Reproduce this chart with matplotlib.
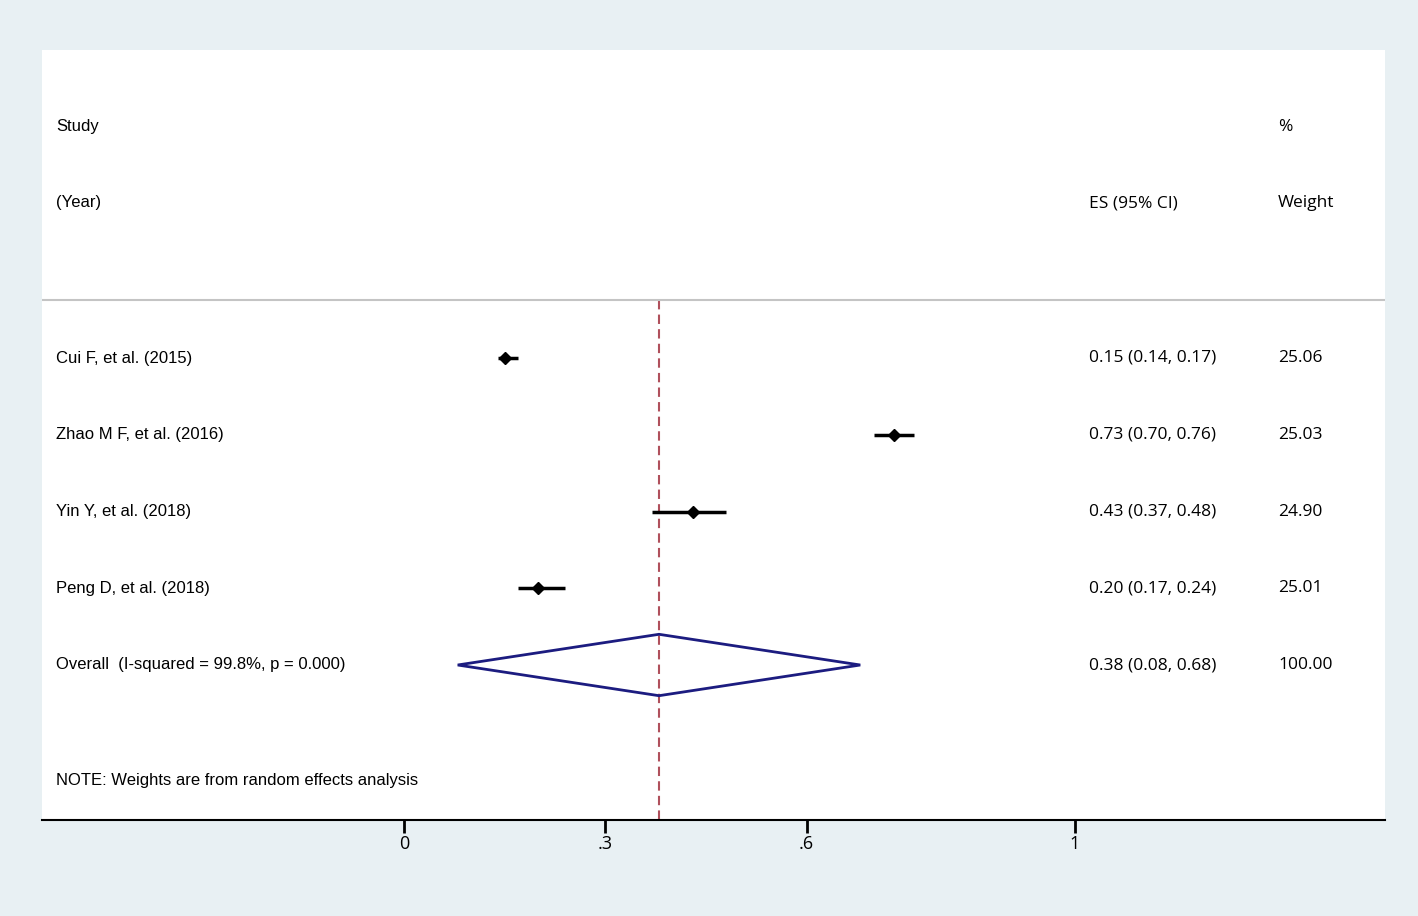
import numpy as np
import matplotlib.pyplot as plt
from matplotlib.patches import Polygon
from matplotlib.transforms import blended_transform_factory

# study data
studies = ["Cui F, et al. (2015)", "Zhao M F, et al. (2016)",
           "Yin Y, et al. (2018)", "Peng D, et al. (2018)"]
es = [0.15, 0.73, 0.43, 0.20]
ci_lo = [0.14, 0.70, 0.37, 0.17]
ci_hi = [0.17, 0.76, 0.48, 0.24]
weights = ["25.06", "25.03", "24.90", "25.01"]

overall_label = "Overall  (I-squared = 99.8%, p = 0.000)"
overall_es = 0.38
overall_lo = 0.08
overall_hi = 0.68
overall_weight = "100.00"

xticks = [0, 0.3, 0.6, 1]
xtick_labels = ["0", ".3", ".6", "1"]

W, H = 1418, 916
BG = "#e8f0f3"
LABEL_FONT = ["Liberation Sans", "DejaVu Sans"]
NUM_FONT = ["Open Sans", "DejaVu Sans"]
NUM_SIZE = 12.5

fig = plt.figure(figsize=(W / 100, H / 100), dpi=100, facecolor=BG)
# white panel in pixels: x 42..1385, y 50..820
ax = fig.add_axes([42 / W, 1 - 820 / H, (1385 - 42) / W, (820 - 50) / H])
ax.set_facecolor("white")

# x scale: 0 -> px 404, 1 -> px 1075
x0, x1 = 404, 1075
ax.set_xlim((42 - x0) / (x1 - x0), (1385 - x0) / (x1 - x0))
# y in row units: row 0 at px 358, step 76.75 px
ry0, rstep = 358, 76.75
ax.set_ylim((820 - ry0) / rstep, (50 - ry0) / rstep)

for s in ["top", "left", "right"]:
    ax.spines[s].set_visible(False)
ax.spines["bottom"].set_linewidth(1.5)
ax.set_yticks([])
ax.set_xticks(xticks)
ax.set_xticklabels(xtick_labels, fontfamily=NUM_FONT, fontsize=13)
ax.tick_params(axis="x", length=9, width=2, pad=2)

rows = np.arange(len(studies))

# header
hdr_line = (300 - ry0) / rstep
ax.axhline(hdr_line, color="#c4c4c4", lw=1.5)
tx_study, tx_es, tx_w = 14 / 1343, 1047 / 1343, 1236 / 1343
blend = blended_transform_factory(ax.transAxes, ax.transData)


def put(x, y, s, fam, size):
    ax.text(x, y, s, transform=blend, va="center", fontfamily=fam, fontsize=size)


put(tx_study, (127 - ry0) / rstep, "Study", LABEL_FONT, 12)
put(tx_study, (203 - ry0) / rstep, "(Year)", LABEL_FONT, 12)
put(tx_es, (203 - ry0) / rstep, "ES (95% CI)", NUM_FONT, NUM_SIZE)
put(tx_w, (127 - ry0) / rstep, "%", NUM_FONT, NUM_SIZE)
put(tx_w, (203 - ry0) / rstep, "Weight", NUM_FONT, NUM_SIZE)

# overall estimate line
ax.plot([overall_es, overall_es], [hdr_line, (820 - ry0) / rstep],
        color="#b0505c", lw=1.5, ls=(0, (4.5, 2.5)), zorder=1)

# study estimates
xerr = [np.array(es) - np.array(ci_lo), np.array(ci_hi) - np.array(es)]
ax.errorbar(es, rows, xerr=xerr, fmt="D", color="black", ms=6,
            elinewidth=2.5, capsize=0, zorder=3)

for i, name in enumerate(studies):
    put(tx_study, rows[i], name, LABEL_FONT, 12)
    put(tx_es, rows[i], "%.2f (%.2f, %.2f)" % (es[i], ci_lo[i], ci_hi[i]),
        NUM_FONT, NUM_SIZE)
    put(tx_w, rows[i], weights[i], NUM_FONT, NUM_SIZE)

# overall diamond
oy = len(studies)
h = 0.4
diamond = Polygon([[overall_lo, oy], [overall_es, oy - h], [overall_hi, oy],
                   [overall_es, oy + h]], closed=True, fill=False,
                  edgecolor="#1c1c80", lw=2, zorder=2)
ax.add_patch(diamond)
put(tx_study, oy, overall_label, LABEL_FONT, 12)
put(tx_es, oy, "%.2f (%.2f, %.2f)" % (overall_es, overall_lo, overall_hi),
    NUM_FONT, NUM_SIZE)
put(tx_w, oy, overall_weight, NUM_FONT, NUM_SIZE)

put(tx_study, (780 - ry0) / rstep, "NOTE: Weights are from random effects analysis",
    LABEL_FONT, 12)

fig.savefig("out.png", dpi=100, facecolor=BG)
